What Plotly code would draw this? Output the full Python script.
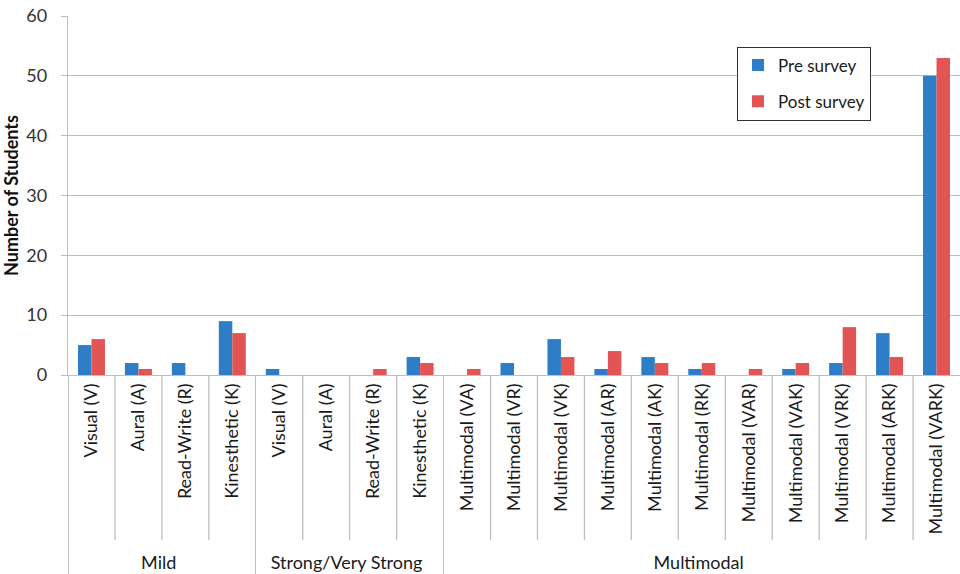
import plotly.graph_objects as go

# Learning-style categories (outer group, inner label)
groups = ["Mild"] * 4 + ["Strong/Very Strong"] * 4 + ["Multimodal"] * 11
styles = [
    "Visual (V)", "Aural (A)", "Read-Write (R)", "Kinesthetic (K)",
    "Visual (V)", "Aural (A)", "Read-Write (R)", "Kinesthetic (K)",
    "Multimodal (VA)", "Multimodal (VR)", "Multimodal (VK)", "Multimodal (AR)",
    "Multimodal (AK)", "Multimodal (RK)", "Multimodal (VAR)", "Multimodal (VAK)",
    "Multimodal (VRK)", "Multimodal (ARK)", "Multimodal (VARK)",
]

pre_survey = [5, 2, 2, 9, 1, 0, 0, 3, 0, 2, 6, 1, 3, 1, 0, 1, 2, 7, 50]
post_survey = [6, 1, 0, 7, 0, 0, 1, 2, 1, 0, 3, 4, 2, 2, 1, 2, 8, 3, 53]

y_ticks = [0, 10, 20, 30, 40, 50, 60]

BLUE = "#2D7EC6"
RED = "#E35555"
GRID = "#BFBFBF"
FONT = "Lato"

fig = go.Figure()
fig.add_trace(go.Bar(x=[groups, styles], y=pre_survey, name="Pre survey",
                     marker=dict(color=BLUE, line=dict(width=0)),
                     legendgroup="pre"))
fig.add_trace(go.Bar(x=[groups, styles], y=post_survey, name="Post survey",
                     marker=dict(color=RED, line=dict(width=0)),
                     legendgroup="post"))

# thin separators between the inner categories, below the axis
n = len(styles)
shapes = []
for i in range(1, n):
    if groups[i] != groups[i - 1]:
        continue
    shapes.append(dict(type="line", xref="paper", yref="paper",
                       x0=i / n, x1=i / n, y0=0, y1=-0.46,
                       line=dict(color=GRID, width=1.3)))

fig.update_layout(
    width=960, height=574,
    margin=dict(l=68, r=0, t=16, b=199),
    paper_bgcolor="white", plot_bgcolor="white",
    font=dict(family=FONT, size=18, color="#1A1A1A"),
    barmode="group", bargap=0.425, bargroupgap=0,
    showlegend=True,
    legend=dict(x=0.75, y=0.915, xanchor="left", yanchor="top",
                bgcolor="white", bordercolor="#333333", borderwidth=1,
                font=dict(family=FONT, size=17, color="#1A1A1A"),
                tracegroupgap=11, traceorder="grouped"),
    shapes=shapes,
    xaxis=dict(
        type="multicategory",
        tickangle=-90,
        tickfont=dict(family=FONT, size=18, color="#1A1A1A"),
        showline=True, linecolor=GRID, linewidth=1.3,
        showgrid=False, ticks="",
        showdividers=True, dividercolor=GRID, dividerwidth=1.3,
    ),
    yaxis=dict(
        range=[0, 60], tickvals=y_ticks,
        showgrid=True, gridcolor=GRID, gridwidth=1.3,
        showline=True, linecolor=GRID, linewidth=1.3,
        ticks="outside", ticklen=6, tickcolor=GRID, tickwidth=1.3,
        ticklabelstandoff=10,
        tickfont=dict(family=FONT, size=18, color="#333333"),
        zeroline=False,
        title=dict(text="<b>Number of Students</b>", standoff=3,
                   font=dict(family=FONT, size=18, color="#111111")),
    ),
)

fig.write_html("out.html")
